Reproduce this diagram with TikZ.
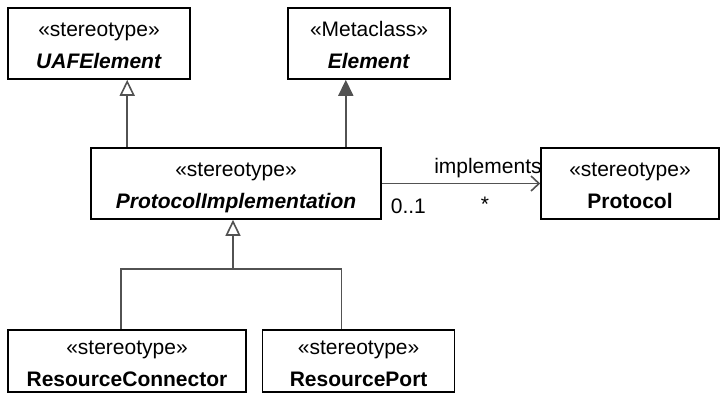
\documentclass[tikz,border=0pt]{standalone}
\usepackage{fontspec}
\setmainfont{Liberation Sans}
\usetikzlibrary{arrows.meta,positioning,calc}

\begin{document}
\begin{tikzpicture}[
  x=0.5pt, y=-0.5pt, font=\fontsize{10.5}{16}\selectfont,
  cls/.style={draw, line width=0.8pt, minimum height=35.5pt, inner sep=2pt, align=center,
    text height=25.5pt, text depth=0.5pt},
  leaf/.style={cls, minimum height=31pt},
  conn/.style={draw=black!68, line width=0.8pt},
  gen/.style={conn, -{Triangle[open, length=8pt, width=7.5pt]}},
  ext/.style={conn, -{Triangle[fill=black!68, length=8pt, width=7.5pt]}},
  assoc/.style={conn, -{Straight Barb[length=4pt, width=7.5pt]}}]
  \useasboundingbox (0,0) rectangle (727,403);
  \node[cls, minimum width=91pt] (uaf) at (99,43.5) {«stereotype»\\\textbf{\textit{UAFElement}}};
  \node[cls, minimum width=81pt] (elem) at (369,43.5) {«Metaclass»\\\textbf{\textit{Element}}};
  \node[cls, minimum width=145pt] (impl) at (236,183.5) {«stereotype»\\\textbf{\textit{ProtocolImplementation}}};
  \node[cls, minimum width=89pt] (proto) at (630,183.5) {«stereotype»\\\textbf{Protocol}};
  \node[leaf, minimum width=119pt] (rconn) at (127,361) {«stereotype»\\\textbf{ResourceConnector}};
  \node[leaf, minimum width=96pt, right=7.5pt of rconn] (rport) {«stereotype»\\\textbf{ResourcePort}};
  % generalisations
  \draw[gen] ([xshift=18.5pt]impl.north west) -- ([xshift=18.5pt]impl.north west |- uaf.south);
  \draw[ext] ([xshift=-18pt]impl.north east) -- ([xshift=-18pt]impl.north east |- elem.south);
  \coordinate (fork) at ($(impl.south)+(-3,49)$);
  \draw[conn] ([xshift=-3pt]rconn.north) |- (fork) -| ([xshift=-8.5pt]rport.north);
  \draw[gen] (fork) -- (fork |- impl.south);
  % association
  \draw[assoc] (impl.east) -- node[pos=0.67, above=-1pt]{implements} (proto.west);
  \node[below right=4pt and 1pt of impl.east] (mfrom) {0..1};
  \node[below left=3pt and 22pt of proto.west] (mto) {*};
\end{tikzpicture}
\end{document}
